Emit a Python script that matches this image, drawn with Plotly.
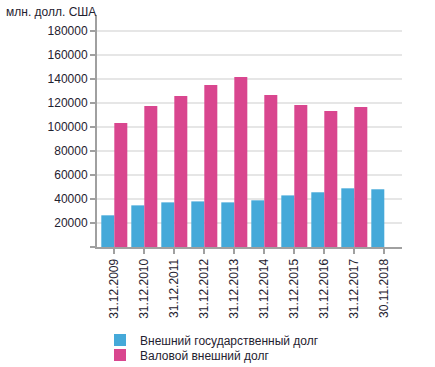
import plotly.graph_objects as go

categories = ["31.12.2009", "31.12.2010", "31.12.2011", "31.12.2012", "31.12.2013",
              "31.12.2014", "31.12.2015", "31.12.2016", "31.12.2017", "30.11.2018"]
gov_debt = [26400, 34700, 37200, 38000, 37200, 38900, 43000, 45600, 48900, 48100]
gross_debt = [103300, 117500, 125800, 135000, 141700, 126700, 118300, 113300, 116700, None]
series_names = ["Внешний государственный долг", "Валовой внешний долг"]
y_tickvals = [0, 20000, 40000, 60000, 80000, 100000, 120000, 140000, 160000, 180000]
y_ticktext = ["", "20000", "40000", "60000", "80000", "100000", "120000", "140000", "160000", "180000"]

FONT = "Arial, Liberation Sans, sans-serif"
TXT = "#1f2230"
PLOT_W, PLOT_H = 305, 232

fig = go.Figure()
fig.add_trace(go.Bar(x=categories, y=gov_debt, name=series_names[0], marker_color="#45a9d9",
                     marker_line_width=0, legend="legend"))
fig.add_trace(go.Bar(x=categories, y=gross_debt, name=series_names[1], marker_color="#d9468f",
                     marker_line_width=0, legend="legend2"))

leg_common = dict(orientation="v", xanchor="left", yanchor="middle", x=3 / PLOT_W,
                  font=dict(size=12, color=TXT), itemwidth=30, bgcolor="rgba(0,0,0,0)")

fig.update_layout(
    width=435, height=367,
    margin=dict(l=97, r=33, t=15, b=120, autoexpand=False),
    paper_bgcolor="white", plot_bgcolor="white",
    barmode="group", bargap=0.133, bargroupgap=0,
    font=dict(family=FONT, size=12, color=TXT),
    showlegend=True,
    legend=dict(y=(247 - 340) / PLOT_H, **leg_common),
    legend2=dict(y=(247 - 355) / PLOT_H, **leg_common),
    annotations=[dict(text="млн. долл. США", xref="paper", yref="paper",
                      x=-93 / PLOT_W, y=1 + 3 / PLOT_H, xanchor="left", yanchor="middle",
                      showarrow=False, font=dict(size=12, color=TXT))],
)
fig.update_yaxes(range=[0, 193333], tickvals=y_tickvals, ticktext=y_ticktext,
                 showgrid=True, gridcolor="#e6e6e6", gridwidth=2,
                 showline=True, linecolor="#a0a0a0", linewidth=2,
                 ticks="outside", ticklen=5, tickcolor="#a0a0a0", tickwidth=2,
                 zeroline=False, tickfont=dict(size=12, color=TXT))
fig.update_xaxes(range=[-0.577, 9.59], showline=True, linecolor="#a0a0a0", linewidth=2,
                 ticks="outside", ticklen=5, tickcolor="#a0a0a0", tickwidth=2,
                 tickangle=-90, tickfont=dict(size=12, color=TXT), showgrid=False)

fig.write_html("out.html", config={"displayModeBar": False},
               post_script="document.body.style.margin='0';document.body.style.overflow='hidden';")
